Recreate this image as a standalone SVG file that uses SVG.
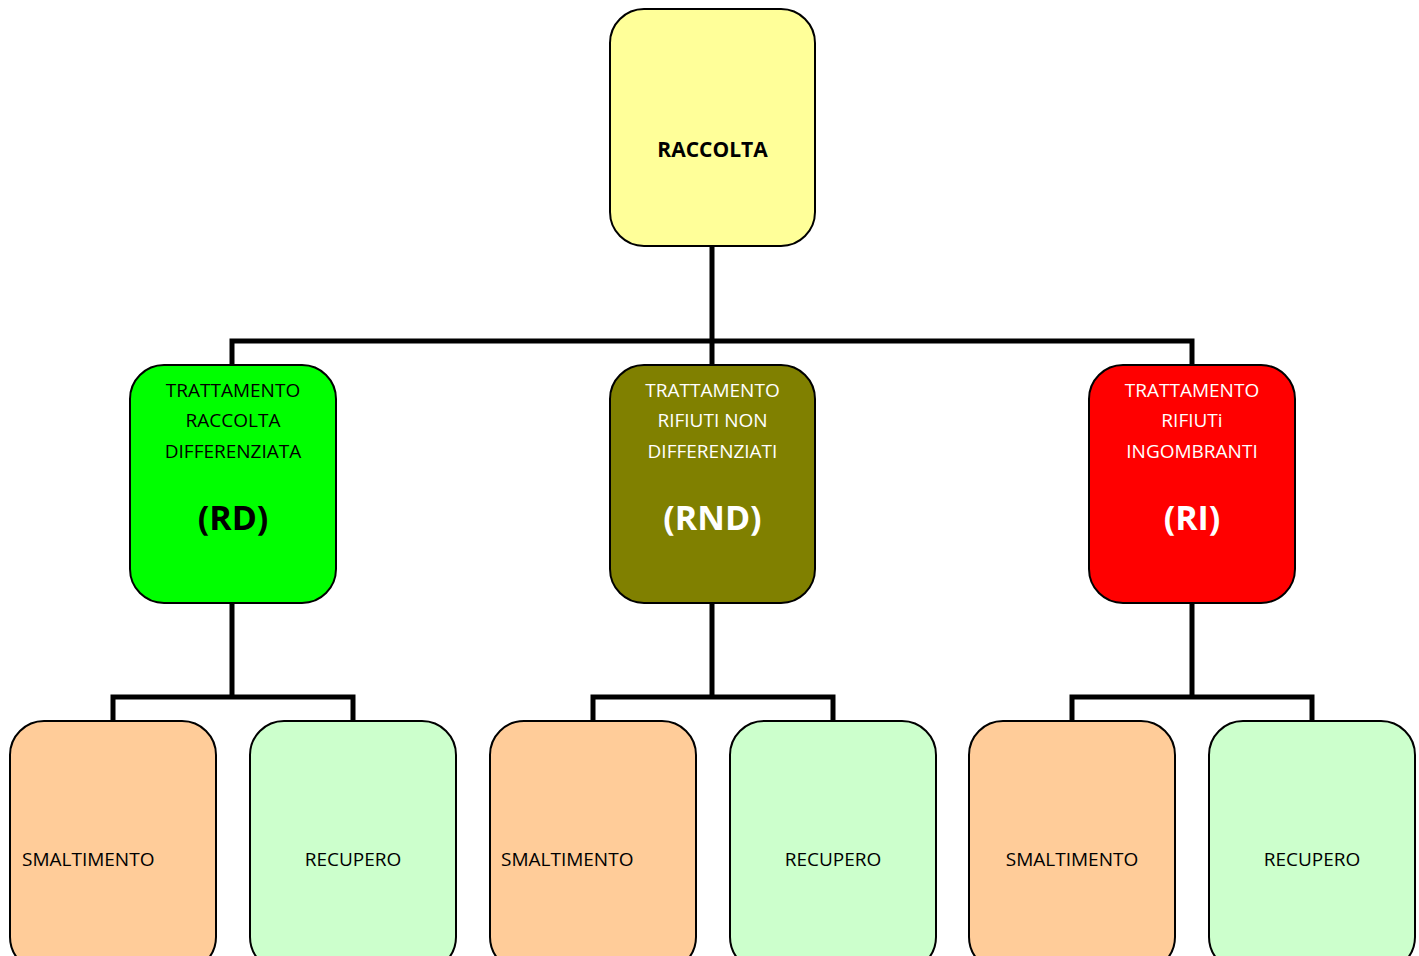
<svg xmlns="http://www.w3.org/2000/svg" width="1419" height="956" viewBox="0 0 1419 956">
<style>
.box{stroke:#000;stroke-width:2}
.t{font-family:"Open Sans","Liberation Sans",sans-serif;font-size:19px;text-anchor:middle}
.tb{font-family:"Open Sans","Liberation Sans",sans-serif;font-weight:bold;text-anchor:middle}
.w{fill:#fff}
.k{fill:#000}
.c{fill:none;stroke:#000;stroke-width:5;stroke-linejoin:miter}
</style>
<rect width="1419" height="956" fill="#fff"/>
<g id="connectors">
<path class="c" d="M712,246 V341 M232,365 V341 H1192 V365 M712,341 V365"/>
<path class="c" d="M232,603 V697 M113,721 V697 H353 V721"/>
<path class="c" d="M712,603 V697 M593,721 V697 H833 V721"/>
<path class="c" d="M1192,603 V697 M1072,721 V697 H1312 V721"/>
</g>
<g id="raccolta">
<rect class="box" x="610" y="9" width="205" height="237" rx="34" fill="#FFFF99"/>
<text class="tb k" x="712.5" y="157" font-size="21">RACCOLTA</text>
</g>
<g id="rd">
<rect class="box" x="130" y="365" width="206" height="238" rx="34" fill="#00FF00"/>
<text class="t k" x="233" y="397">TRATTAMENTO</text>
<text class="t k" x="233" y="427">RACCOLTA</text>
<text class="t k" x="233" y="458">DIFFERENZIATA</text>
<text class="tb k" x="233" y="530" font-size="34">(RD)</text>
</g>
<g id="rnd">
<rect class="box" x="610" y="365" width="205" height="238" rx="34" fill="#808000"/>
<text class="t w" x="712.5" y="397">TRATTAMENTO</text>
<text class="t w" x="712.5" y="427">RIFIUTI NON</text>
<text class="t w" x="712.5" y="458">DIFFERENZIATI</text>
<text class="tb w" x="712.5" y="530" font-size="34">(RND)</text>
</g>
<g id="ri">
<rect class="box" x="1089" y="365" width="206" height="238" rx="34" fill="#FF0000"/>
<text class="t w" x="1192" y="397">TRATTAMENTO</text>
<text class="t w" x="1192" y="427">RIFIUTi</text>
<text class="t w" x="1192" y="458">INGOMBRANTI</text>
<text class="tb w" x="1192" y="530" font-size="34">(RI)</text>
</g>
<g id="smaltimento-rd">
<rect class="box" x="10" y="721" width="206" height="250" rx="34" fill="#FFCC99"/>
<text class="t k" x="22" y="866" style="text-anchor:start">SMALTIMENTO</text>
</g>
<g id="recupero-rd">
<rect class="box" x="250" y="721" width="206" height="250" rx="34" fill="#CCFFCC"/>
<text class="t k" x="353" y="866">RECUPERO</text>
</g>
<g id="smaltimento-rnd">
<rect class="box" x="490" y="721" width="206" height="250" rx="34" fill="#FFCC99"/>
<text class="t k" x="501" y="866" style="text-anchor:start">SMALTIMENTO</text>
</g>
<g id="recupero-rnd">
<rect class="box" x="730" y="721" width="206" height="250" rx="34" fill="#CCFFCC"/>
<text class="t k" x="833" y="866">RECUPERO</text>
</g>
<g id="smaltimento-ri">
<rect class="box" x="969" y="721" width="206" height="250" rx="34" fill="#FFCC99"/>
<text class="t k" x="1072" y="866">SMALTIMENTO</text>
</g>
<g id="recupero-ri">
<rect class="box" x="1209" y="721" width="206" height="250" rx="34" fill="#CCFFCC"/>
<text class="t k" x="1312" y="866">RECUPERO</text>
</g>
</svg>
